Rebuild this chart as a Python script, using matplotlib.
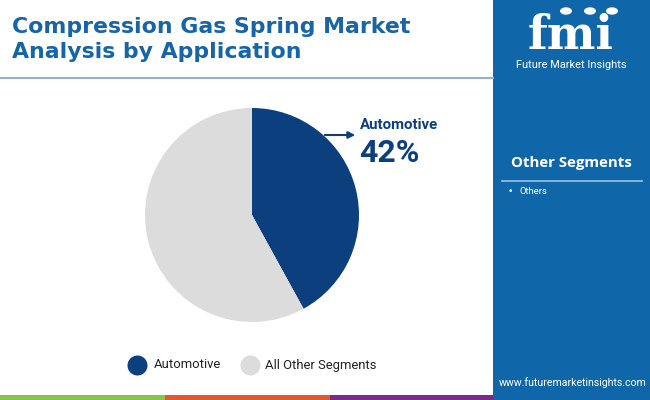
import matplotlib
matplotlib.use("Agg")
import matplotlib.pyplot as plt
from matplotlib.patches import Rectangle, Circle
from matplotlib.lines import Line2D

categories = ["Automotive", "All Other Segments"]
shares = [42, 58]
colors = ["#0b3f7e", "#dcdcdc"]
other_segments = ["Others"]
title_lines = ["Compression Gas Spring Market", "Analysis by Application"]

W, H = 650, 400
fig = plt.figure(figsize=(6.5, 4.0), dpi=100)
fig.patch.set_facecolor("white")

def fx(x):
    return x / W

def fy(y):
    return 1 - y / H

def px(size_px):
    return size_px * 72 / 100

# right panel
fig.patches.append(Rectangle((fx(493), 0), 1 - fx(493), 1, transform=fig.transFigure,
                             facecolor="#0f67a9", edgecolor="none", zorder=0))
# bottom strip
strip = [("#8bc34a", 0, 165), ("#e4572e", 165, 330), ("#7b2a8a", 330, 493)]
for c, x0, x1 in strip:
    fig.patches.append(Rectangle((fx(x0), 0), fx(x1 - x0), 5 / H, transform=fig.transFigure,
                                 facecolor=c, edgecolor="none", zorder=1))
# title separator line
fig.lines.append(Line2D([0, fx(493)], [fy(78), fy(78)], transform=fig.transFigure,
                        color="#8fb3d3", lw=1.5))

for i, line in enumerate(title_lines):
    fig.text(fx(12), fy(33 + 25 * i), line, ha="left", va="baseline", fontsize=px(22),
             fontweight="bold", color="#1565a8", family="DejaVu Sans")

# pie
cx, cy, r = 252, 215, 107
ax = fig.add_axes([fx(cx - r), fy(cy + r), (2 * r) / W, (2 * r) / H])
ax.pie(shares, colors=colors, startangle=90, counterclock=False,
       wedgeprops=dict(linewidth=0))
ax.set_xlim(-1, 1)
ax.set_ylim(-1, 1)
ax.set_aspect("equal")
ax.axis("off")

# annotation
ax.annotate("", xy=(fx(358), fy(135)), xycoords="figure fraction",
            xytext=(fx(322), fy(135)), textcoords="figure fraction",
            arrowprops=dict(arrowstyle="-|>", color="#0b3f7e", lw=1.5, mutation_scale=10))
fig.text(fx(360), fy(125), categories[0], ha="left", va="center", fontsize=px(15),
         fontweight="bold", color="#0b3f7e", family="Roboto")
fig.text(fx(359), fy(153), f"{shares[0]}%", ha="left", va="center", fontsize=px(32),
         fontweight="bold", color="#0b3f7e", family="Roboto")

# legend
leg_items = [(137, 154, categories[0], colors[0]), (250, 265, categories[1], colors[1])]
for mx, tx, lab, c in leg_items:
    fig.lines.append(Line2D([fx(mx)], [fy(365)], transform=fig.transFigure, marker="o",
                            markersize=px(20), color=c, markeredgewidth=0))
    fig.text(fx(tx), fy(365), lab, ha="left", va="center", fontsize=px(13),
             color="#222222", family="Roboto")

# logo
fig.text(fx(571), fy(49), "fmi", ha="center", va="baseline", fontsize=px(46), fontweight="bold",
         color="white", family="DejaVu Serif")
for gx in (566, 590, 612):
    fig.patches.append(Circle((fx(gx), fy(11)), 6 / W, transform=fig.transFigure,
                              facecolor="white", edgecolor="none"))
fig.text(fx(571), fy(65), "Future Market Insights", ha="center", va="center",
         fontsize=px(11), color="white", family="Roboto")

# other segments panel
fig.text(fx(571), fy(163), "Other Segments", ha="center", va="center", fontsize=px(15),
         fontweight="bold", color="white", family="Open Sans")
fig.lines.append(Line2D([fx(502), fx(642)], [fy(181), fy(181)], transform=fig.transFigure,
                        color="#9cc3e4", lw=1.2))
for i, seg in enumerate(other_segments):
    yy = 192 + i * 14
    fig.text(fx(508), fy(yy), "\u2022", ha="left", va="center", fontsize=px(9), color="white")
    fig.text(fx(519), fy(yy), seg, ha="left", va="center", fontsize=px(9.5), color="white",
             family="Roboto")

fig.text(fx(573), fy(383), "www.futuremarketinsights.com", ha="center", va="center",
         fontsize=px(10.5), color="white", family="Roboto")

fig.savefig("out.png", dpi=100, facecolor="white")
